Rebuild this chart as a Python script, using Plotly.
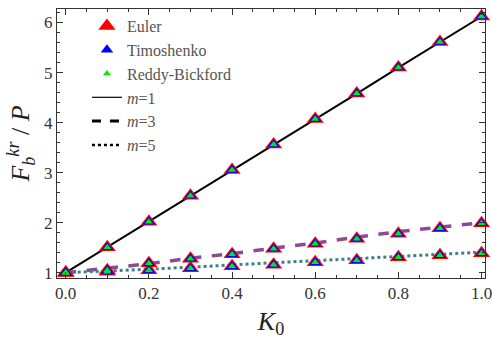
import plotly.graph_objects as go

# Stiffness parameter K0
k0 = [0.0, 0.1, 0.2, 0.3, 0.4, 0.5, 0.6, 0.7, 0.8, 0.9, 1.0]

# Analytical curves F_b^kr / P for the three mode numbers
line_m1 = [1.0, 1.51, 2.02, 2.54, 3.05, 3.56, 4.07, 4.58, 5.10, 5.61, 6.12]
line_m3 = [1.0, 1.09, 1.18, 1.29, 1.38, 1.49, 1.59, 1.71, 1.82, 1.91, 2.0]
line_m5 = [1.0, 1.03, 1.07, 1.11, 1.16, 1.20, 1.24, 1.28, 1.32, 1.36, 1.41]

# Numerical results for each beam theory (shared by all three theories)
pts_m1 = [1.0, 1.51, 2.02, 2.54, 3.05, 3.56, 4.07, 4.58, 5.10, 5.61, 6.12]
pts_m3 = [1.0, 1.05, 1.19, 1.28, 1.37, 1.48, 1.58, 1.68, 1.78, 1.89, 1.99]
pts_m5 = [1.0, 1.02, 1.05, 1.09, 1.13, 1.16, 1.21, 1.25, 1.31, 1.35, 1.39]

theories = ["Euler", "Timoshenko", "Reddy-Bickford"]
theory_colors = ["#ff0000", "#0000ff", "#00ee00"]
theory_sizes = [15, 11, 7]

mode_labels = ["<i>m</i>=1", "<i>m</i>=3", "<i>m</i>=5"]
mode_dash = ["solid", "dash", "dot"]
mode_width = [1.2, 3, 2.5]
curve_colors = ["#000000", "#8a4a96", "#3f7f8a"]
curve_widths = [2, 3.5, 3]

SERIF = "'Liberation Serif', 'DejaVu Serif', serif"

fig = go.Figure()

# curves
for ys, dash, col, w in zip([line_m1, line_m3, line_m5], mode_dash, curve_colors, curve_widths):
    fig.add_trace(go.Scatter(x=k0, y=ys, mode="lines", showlegend=False,
                             line=dict(color=col, dash=dash, width=w),
                             hoverinfo="skip", cliponaxis=False))

# triangle markers, largest first so smaller ones sit on top
all_x = k0 * 3
all_y = pts_m1 + pts_m3 + pts_m5
for name, col, size in zip(theories, theory_colors, theory_sizes):
    fig.add_trace(go.Scatter(x=all_x, y=all_y, mode="markers", name=name,
                             marker=dict(symbol="triangle-up", color=col, size=size,
                                         line=dict(width=0)),
                             cliponaxis=False))

# legend entries for the mode line styles
for lab, dash, w in zip(mode_labels, mode_dash, mode_width):
    fig.add_trace(go.Scatter(x=[None], y=[None], mode="lines", name=lab,
                             line=dict(color="black", dash=dash, width=w)))

axis_common = dict(
    showline=True, linecolor="#333333", linewidth=1, mirror="ticks",
    ticks="inside", ticklen=6, tickcolor="#333333", tickwidth=1,
    showgrid=False, zeroline=False, ticklabeloverflow="allow",
    tickfont=dict(family=SERIF, size=17, color="#333333"),
)

fig.update_xaxes(**axis_common, range=[-0.021, 1.0083], tickvals=[0, 0.2, 0.4, 0.6, 0.8, 1.0],
                 ticktext=["0.0", "0.2", "0.4", "0.6", "0.8", "1.0"],
                 minor=dict(dtick=0.05, tick0=0, ticks="inside", ticklen=3, tickcolor="#333333"),
                 title=dict(text="<i>K</i><sub>0</sub>", font=dict(family=SERIF, size=26, color="#222222"),
                            standoff=10))
fig.update_yaxes(**axis_common, range=[0.894, 6.27], tickvals=[1, 2, 3, 4, 5, 6],
                 minor=dict(dtick=0.2, tick0=0, ticks="inside", ticklen=3, tickcolor="#333333"),
                 title=dict(text="<i>F</i><sub><i>b</i></sub><sup><i>kr</i></sup> / <i>P</i>",
                            font=dict(family=SERIF, size=26, color="#222222"), standoff=6))

fig.update_layout(
    width=492, height=339,
    margin=dict(l=57, r=0, t=9, b=61),
    paper_bgcolor="white", plot_bgcolor="white",
    font=dict(family=SERIF),
    legend=dict(x=0.07, y=1.0, xanchor="left", yanchor="top",
                bgcolor="rgba(255,255,255,0)", borderwidth=0,
                font=dict(family=SERIF, size=16, color="#555555"),
                tracegroupgap=0, itemsizing="trace"),
    showlegend=True,
)

fig.write_html("out.html")
